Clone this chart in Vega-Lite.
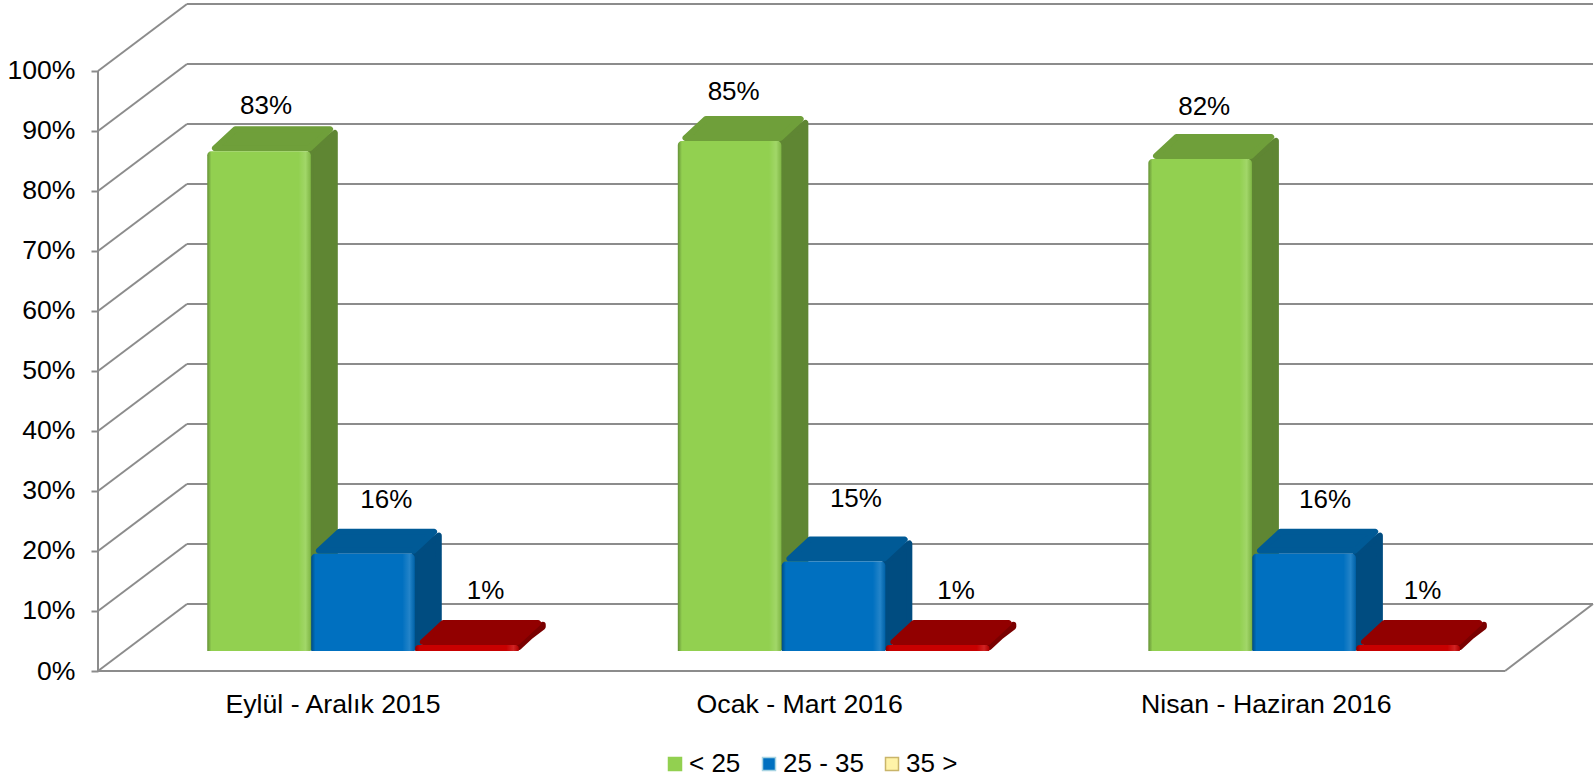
{
"$schema":"https://vega.github.io/schema/vega-lite/v6.json",
"width":1495,"height":668,
"autosize":{"type":"none"},
"padding":{"left":98,"top":3,"right":2,"bottom":107},
"background":"white",
"config":{"font":"Liberation Sans","view":{"stroke":null},"text":{"font":"Liberation Sans"}},
"data":{"values":[
{"period":"Eylül - Aralık 2015","group":"< 25","value":83.3},
{"period":"Eylül - Aralık 2015","group":"25 - 35","value":16.2},
{"period":"Eylül - Aralık 2015","group":"35 >","value":1},
{"period":"Ocak - Mart 2016","group":"< 25","value":85},
{"period":"Ocak - Mart 2016","group":"25 - 35","value":14.9},
{"period":"Ocak - Mart 2016","group":"35 >","value":1},
{"period":"Nisan - Haziran 2016","group":"< 25","value":82},
{"period":"Nisan - Haziran 2016","group":"25 - 35","value":16.2},
{"period":"Nisan - Haziran 2016","group":"35 >","value":1}
]},
"transform":[
{"calculate":"indexof(['Eylül - Aralık 2015','Ocak - Mart 2016','Nisan - Haziran 2016'],datum.period)","as":"i"},
{"calculate":"indexof(['< 25','25 - 35','35 >'],datum.group)","as":"g"},
{"calculate":"datum.i+'-'+datum.g","as":"id"},
{"calculate":"0.233+datum.i*1.0033+datum.g*0.2217","as":"xL"},
{"calculate":"datum.xL+0.2207","as":"xR"},
{"calculate":"3.33","as":"yB"},
{"calculate":"3.33+datum.value","as":"yT"},
{"calculate":"['#5F8633','#004C80','#7A0000'][datum.g]","as":"sideC"},
{"calculate":"['#6F9F3A','#005A96','#920000'][datum.g]","as":"topC"},
{"calculate":"datum.xL+[[0.1255,0.16,0.15],[0.119,0.158,0.15],[0.119,0.155,0.141]][datum.i][datum.g]","as":"labX"},
{"calculate":"datum.yT+[[7.52,9.02,9],[8.2,10.38,9],[8.7,9.02,9]][datum.i][datum.g]","as":"labY"},
{"calculate":"format(datum.value,'.0f')+'%'","as":"lab"},
{"calculate":"[0,1]","as":"k"},
{"flatten":["k"]},
{"calculate":"datum.xR+datum.k*0.0512","as":"sX"},
{"calculate":"datum.yT+datum.k*3.03","as":"sY"},
{"calculate":"datum.yB+0.68+datum.k*3.7","as":"sY2"},
{"calculate":"datum.yT+0.5+datum.k*3.17","as":"tY"},
{"calculate":"datum.xL+0.0163+datum.k*0.0437","as":"tX"},
{"calculate":"datum.xR-0.0025+datum.k*0.0437","as":"tX2"}
],
"layer":[
{"data":{"values":[{"level":0},{"level":10},{"level":20},{"level":30},{"level":40},{"level":50},{"level":60},{"level":70},{"level":80},{"level":90},{"level":100}]},
 "transform":[{"calculate":"datum.level+11.17","as":"back"}],
 "mark":{"type":"rule","color":"#8C8C8C","strokeWidth":2},
 "encoding":{
  "x":{"datum":0,"type":"quantitative","scale":{"domain":[0,3.1876],"nice":false,"zero":false},
   "axis":{"values":[0.5,1.495,2.49],"labelExpr":"datum.value<1?'Eylül - Aralık 2015':datum.value<2?'Ocak - Mart 2016':'Nisan - Haziran 2016'","title":null,"domain":false,"ticks":false,"grid":false,"labelFontSize":26.7,"labelColor":"#000","labelPadding":20,"labelFont":"Liberation Sans","labelFlush":false,"labelOverlap":false,"labelLimit":500}},
  "x2":{"datum":0.18977},
  "y":{"field":"level","type":"quantitative","scale":{"domain":[0,111.33],"nice":false,"zero":false},
   "axis":{"values":[0,10,20,30,40,50,60,70,80,90,100],"labelExpr":"datum.value+'%'","title":null,"domain":false,"grid":false,"tickSize":7,"tickColor":"#8C8C8C","tickWidth":2,"labelFontSize":26.6,"labelColor":"#000","labelPadding":16,"labelFont":"Liberation Sans","labelOverlap":false,"labelFlush":false}},
  "y2":{"field":"back"}
 }},
{"data":{"values":[{"level":0},{"level":10},{"level":20},{"level":30},{"level":40},{"level":50},{"level":60},{"level":70},{"level":80},{"level":90},{"level":100}]},
 "transform":[{"calculate":"datum.level+11.17","as":"back"}],
 "mark":{"type":"rule","color":"#8C8C8C","strokeWidth":2},
 "encoding":{
  "x":{"datum":0.18977,"type":"quantitative"},
  "x2":{"datum":3.1876},
  "y":{"field":"back","type":"quantitative"}
 }},
{"data":{"values":[{"edge":"front"}]},
 "mark":{"type":"rule","color":"#8C8C8C","strokeWidth":2},
 "encoding":{"x":{"datum":0,"type":"quantitative"},"x2":{"datum":3},"y":{"datum":0,"type":"quantitative"}}},
{"data":{"values":[{"edge":"axis"}]},
 "mark":{"type":"rule","color":"#8C8C8C","strokeWidth":2},
 "encoding":{"x":{"datum":0,"type":"quantitative"},"y":{"datum":0,"type":"quantitative"},"y2":{"datum":100}}},
{"data":{"values":[{"edge":"right"}]},
 "mark":{"type":"rule","color":"#8C8C8C","strokeWidth":2},
 "encoding":{"x":{"datum":3,"type":"quantitative"},"x2":{"datum":3.1876},"y":{"datum":0,"type":"quantitative"},"y2":{"datum":11.17}}},
{"mark":{"type":"area","strokeWidth":6,"strokeJoin":"round"},
 "encoding":{
  "x":{"field":"sX","type":"quantitative"},
  "y":{"field":"sY","type":"quantitative","stack":null},
  "y2":{"field":"sY2"},
  "detail":{"field":"id"},
  "fill":{"field":"sideC","type":"nominal","scale":null},
  "stroke":{"field":"sideC","type":"nominal","scale":null}
 }},
{"mark":{"type":"area","orient":"horizontal","strokeWidth":6,"strokeJoin":"round"},
 "encoding":{
  "y":{"field":"tY","type":"quantitative"},
  "x":{"field":"tX","type":"quantitative","stack":null},
  "x2":{"field":"tX2"},
  "detail":{"field":"id"},
  "fill":{"field":"topC","type":"nominal","scale":null},
  "stroke":{"field":"topC","type":"nominal","scale":null}
 }},
{"transform":[{"filter":"datum.k==0"}],
 "mark":{"type":"rect","cornerRadiusTopLeft":4,"cornerRadiusTopRight":4},
 "encoding":{
  "x":{"field":"xL","type":"quantitative"},
  "x2":{"field":"xR"},
  "y":{"field":"yB","type":"quantitative"},
  "y2":{"field":"yT"},
  "color":{"condition":{"test":"datum.group=='35 >'","value":"#C80000"},
   "field":"group","type":"nominal",
   "scale":{"domain":["< 25","25 - 35","35 >"],"range":["#92D050","#0070C0","#FFF3A8"]},
   "legend":{"title":null,"orient":"none","direction":"horizontal","legendX":564,"legendY":748,"symbolType":"square","symbolSize":169,"symbolOpacity":1,"labelFontSize":26,"labelColor":"#000","labelFont":"Liberation Sans","labelOffset":1,"columnPadding":15,"padding":0,"labelLimit":200,
    "encode":{"symbols":{"update":{"stroke":{"signal":"datum.value=='25 - 35'?'#A6D3E2':datum.value=='35 >'?'#C9B56A':'#92D050'"},"strokeWidth":{"value":1.5}}}}}
  }
 }},
{"transform":[{"filter":"datum.k==0"}],
 "mark":{"type":"rect","cornerRadiusTopLeft":4,"cornerRadiusTopRight":4,
  "color":{"gradient":"linear","x1":0,"x2":1,"y1":0,"y2":0,"stops":[
   {"offset":0,"color":"rgba(0,0,0,0.3)"},
   {"offset":0.04,"color":"rgba(0,0,0,0)"},
   {"offset":0.88,"color":"rgba(255,255,255,0)"},
   {"offset":0.95,"color":"rgba(255,255,255,0.14)"},
   {"offset":1,"color":"rgba(0,0,0,0.12)"}]}},
 "encoding":{
  "x":{"field":"xL","type":"quantitative"},
  "x2":{"field":"xR"},
  "y":{"field":"yB","type":"quantitative"},
  "y2":{"field":"yT"}
 }},
{"transform":[{"filter":"datum.k==0"}],
 "mark":{"type":"text","fontSize":26,"color":"#000","font":"Liberation Sans","baseline":"middle","align":"center"},
 "encoding":{
  "x":{"field":"labX","type":"quantitative"},
  "y":{"field":"labY","type":"quantitative"},
  "text":{"field":"lab","type":"nominal"}
 }}
]}
